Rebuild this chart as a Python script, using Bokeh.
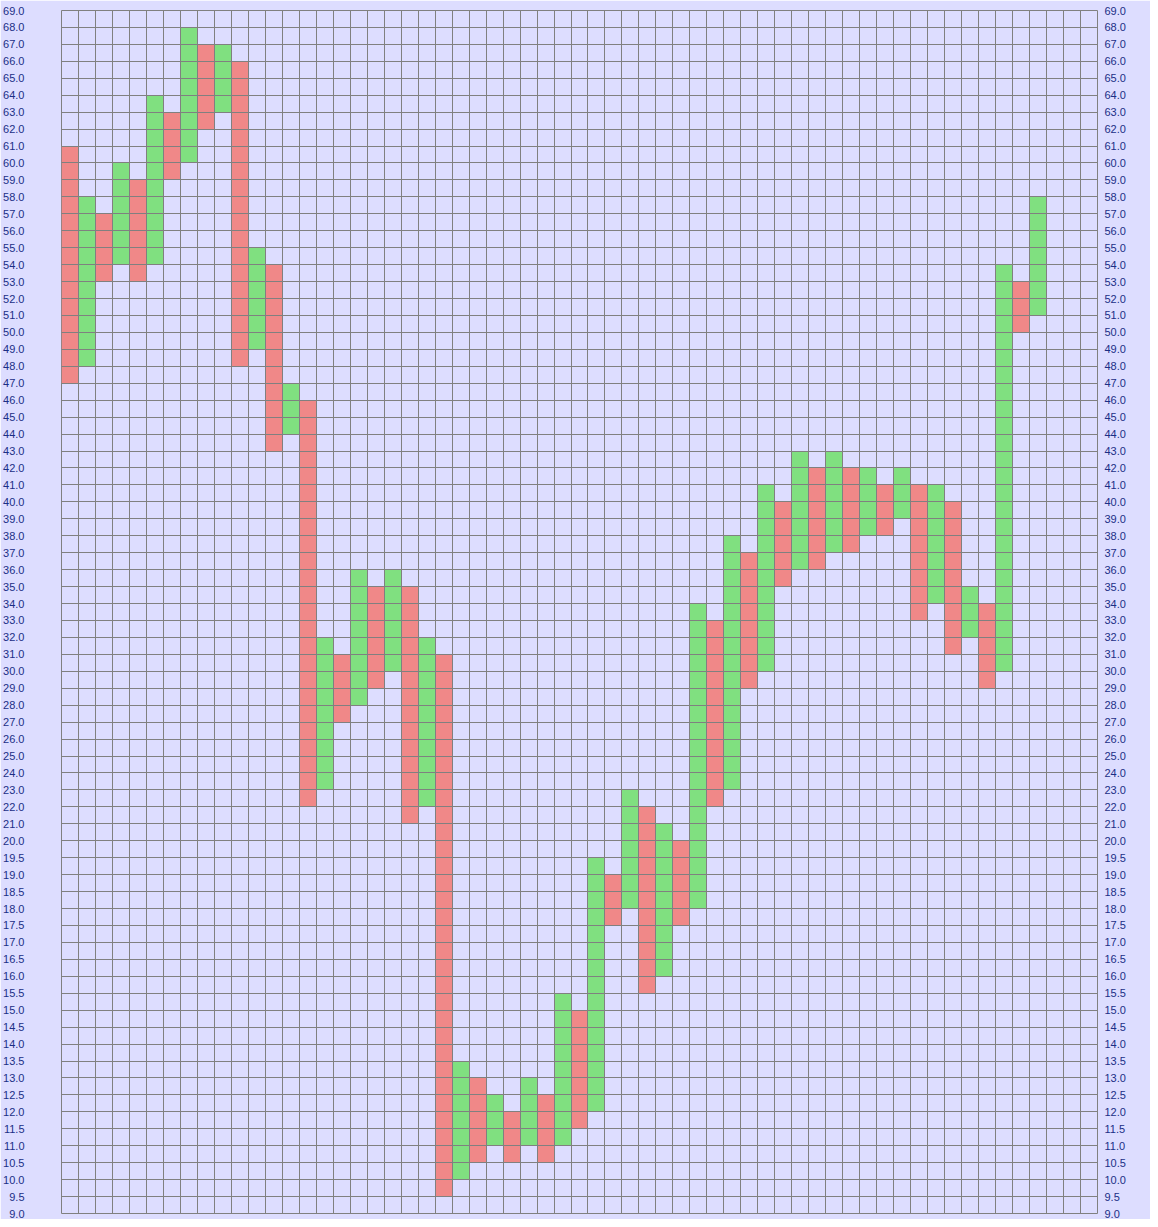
from bokeh.plotting import figure
from bokeh.models import (ColumnDataSource, Range1d, LinearAxis, FixedTicker, Grid)
from bokeh.embed import file_html
from bokeh.resources import INLINE

# Price levels of the (non-linear) box scale: 0.5 boxes up to 20, 1.0 boxes above
levels = [9.0 + 0.5 * i for i in range(23)] + [float(v) for v in range(21, 70)]
level_labels = [f"{v:.1f}" for v in levels]

# Point & figure columns: X = rising (green), O = falling (red)
kinds = ["O", "X"] * 29
highs = [61, 58, 57, 60, 59, 64, 63, 68, 67, 67,
         66, 55, 54, 47, 46, 32, 31, 36, 35, 36,
         35, 32, 31, 13.5, 13.0, 12.5, 12.0, 13.0, 12.5, 15.5,
         15.0, 19.5, 19.0, 23, 22, 21, 20, 34, 33, 38,
         37, 41, 40, 43, 42, 43, 42, 42, 41, 42,
         41, 41, 40, 35, 34, 54, 53, 58]
lows = [47, 48, 53, 54, 53, 54, 59, 60, 62, 63,
        48, 49, 43, 44, 22, 23, 27, 28, 29, 30,
        21, 22, 9.5, 10.0, 10.5, 11.0, 10.5, 11.0, 10.5, 11.0,
        11.5, 12.0, 17.5, 18.0, 15.5, 16.0, 17.5, 18.0, 22, 23,
        29, 30, 35, 36, 36, 37, 37, 38, 38, 39,
        33, 34, 31, 32, 29, 30, 50, 51]
n_columns = 61

GREEN = "#80E080"
RED = "#F08888"
BG = "#DDDDFF"
GRID = "#808080"
LABEL = "#1B2F86"

def row(price):
    return levels.index(float(price))

src = ColumnDataSource(dict(
    left=list(range(len(kinds))),
    right=[i + 1 for i in range(len(kinds))],
    bottom=[row(v) for v in lows],
    top=[row(v) for v in highs],
    color=[GREEN if k == "X" else RED for k in kinds],
))

p = figure(width=1150, height=1219, output_backend="svg", toolbar_location=None,
           x_range=Range1d(0, n_columns), y_range=Range1d(0, len(levels) - 1),
           x_axis_location=None, y_axis_location=None,
           min_border_left=61, min_border_right=53, min_border_top=10, min_border_bottom=6,
           background_fill_color=BG, border_fill_color=BG,
           outline_line_color=GRID)
p.grid.visible = False

p.quad(left="left", right="right", bottom="bottom", top="top", source=src,
       fill_color="color", line_color=None)

for dim, n in ((0, n_columns + 1), (1, len(levels))):
    g = Grid(dimension=dim, ticker=FixedTicker(ticks=list(range(n))),
             grid_line_color=GRID, grid_line_width=1, level="annotation")
    p.add_layout(g)

overrides = {i: lab for i, lab in enumerate(level_labels)}
for side, standoff in (("left", 37), ("right", 7)):
    ax = LinearAxis(ticker=FixedTicker(ticks=list(range(len(levels)))),
                    major_label_overrides=overrides,
                    axis_line_color=None, major_tick_line_color=None,
                    minor_tick_line_color=None,
                    major_tick_in=0, major_tick_out=0,
                    major_label_standoff=standoff,
                    major_label_text_font="Liberation Sans",
                    major_label_text_font_size="11px",
                    major_label_text_color=LABEL)
    p.add_layout(ax, side)

open("out.html", "w").write(file_html(p, INLINE))
